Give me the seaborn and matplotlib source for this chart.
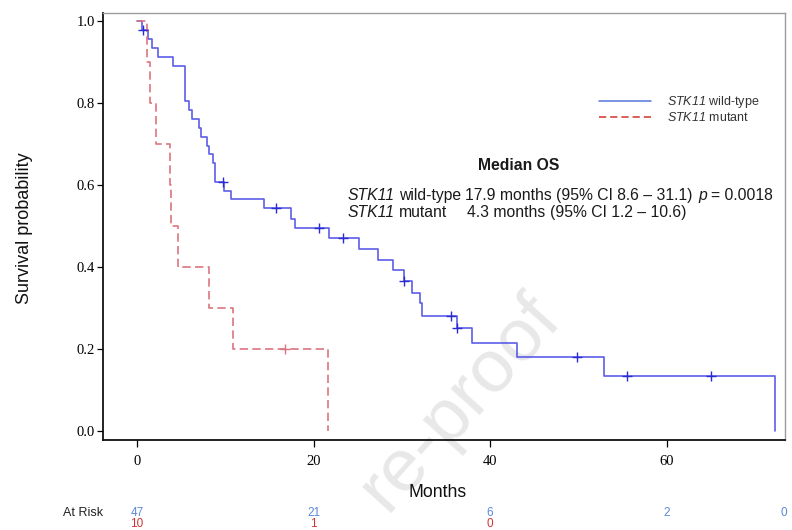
import numpy as np
import pandas as pd
import matplotlib
matplotlib.use("Agg")
import matplotlib.pyplot as plt
import matplotlib.transforms as mtransforms
from matplotlib.lines import Line2D
import seaborn as sns

# Kaplan-Meier overall survival estimates by STK11 status
wt_time = [0, 0.6, 1.2, 1.7, 2.4, 4.1, 5.4, 5.9, 6.2, 7.0, 7.3, 7.9, 8.1, 8.6, 8.8,
           9.9, 10.7, 14.4, 17.4, 17.9, 21.7, 25.1, 27.3, 29.0, 30.2, 31.2, 32.0,
           32.3, 36.2, 38.0, 43.0, 52.9, 72.3]
wt_surv = [1.0, 0.979, 0.956, 0.933, 0.911, 0.89, 0.805, 0.783, 0.76, 0.738, 0.716,
           0.695, 0.675, 0.653, 0.608, 0.586, 0.565, 0.543, 0.516, 0.494, 0.470,
           0.443, 0.417, 0.393, 0.366, 0.337, 0.311, 0.281, 0.25, 0.215, 0.181,
           0.135, 0.0]
wt_censor = [0.7, 9.7, 15.7, 20.6, 23.3, 30.2, 35.6, 36.3, 49.8, 55.5, 65.0]

mut_time = [0, 1.1, 1.5, 2.2, 3.75, 3.9, 4.6, 8.1, 10.9, 21.6]
mut_surv = [1.0, 0.9, 0.8, 0.7, 0.6, 0.5, 0.4, 0.3, 0.2, 0.0]
mut_censor = [16.8]

# numbers at risk
risk_label_x = [0, 20, 40, 60, 73.3]
wt_at_risk = [47, 21, 6, 2, 0]
mut_at_risk = [10, 1, 0]

x_ticks = [0, 20, 40, 60]
y_ticks = [0.0, 0.2, 0.4, 0.6, 0.8, 1.0]

WT_COLOR = "#4c4ce8"
WT_MARK = "#2b2bd0"
MUT_COLOR = "#dc7480"
LEG_BLUE = "#5577d8"
LEG_RED = "#d9524c"
RISK_BLUE = "#5a88d8"
RISK_RED = "#d23232"

sns.set_style("ticks")
plt.rcParams["font.family"] = ["Liberation Sans", "DejaVu Sans"]
plt.rcParams["mathtext.fontset"] = "custom"
plt.rcParams["mathtext.rm"] = "Liberation Sans"
plt.rcParams["mathtext.sf"] = "Liberation Sans:italic"

fig = plt.figure(figsize=(7.92, 5.3), dpi=100)
ax = fig.add_axes([103 / 792, 90 / 530, 682 / 792, 427 / 530])


def censor_levels(times, surv, cens):
    t = np.asarray(times)
    s = np.asarray(surv)
    idx = np.searchsorted(t, np.asarray(cens), side="right") - 1
    return s[idx]


wt_df = pd.DataFrame({"Months": wt_time, "Survival": wt_surv})
mut_df = pd.DataFrame({"Months": mut_time, "Survival": mut_surv})

sns.lineplot(data=wt_df, x="Months", y="Survival", estimator=None, sort=False,
             drawstyle="steps-post", color=WT_COLOR, lw=1.2, alpha=0.9, ax=ax)
sns.lineplot(data=mut_df, x="Months", y="Survival", estimator=None, sort=False,
             drawstyle="steps-post", color=MUT_COLOR, lw=1.2,
             linestyle=(0, (5, 2.6)), ax=ax)

sns.scatterplot(x=wt_censor, y=censor_levels(wt_time, wt_surv, wt_censor),
                marker="+", s=45, color=WT_MARK, linewidth=1.0, ax=ax, zorder=3)
sns.scatterplot(x=mut_censor, y=censor_levels(mut_time, mut_surv, mut_censor),
                marker="+", s=45, color=MUT_COLOR, linewidth=1.0, ax=ax, zorder=3)

ax.set_xlim(-3.85, 73.4)
ax.set_ylim(-0.022, 1.0195)
ax.set_xticks(x_ticks)
ax.set_yticks(y_ticks)
ax.set_yticklabels([f"{v:.1f}" for v in y_ticks])
ax.tick_params(axis="both", labelsize=10.5, labelfontfamily="Liberation Serif",
               colors="black", width=0.9)
ax.tick_params(axis="y", length=4.5, pad=1.5)
ax.tick_params(axis="x", length=5, pad=6)

for side in ("left", "bottom"):
    ax.spines[side].set_color("#111111")
    ax.spines[side].set_linewidth(1.3)
for side in ("top", "right"):
    ax.spines[side].set_color("#9c9c9c")
    ax.spines[side].set_linewidth(1.0)

ax.set_xlabel("Months", fontsize=12.7, va="center", color="#111111")
ax.xaxis.set_label_coords(0.491, -0.124)
ax.set_ylabel("Survival probability", fontsize=13, va="center", color="#111111")
ax.yaxis.set_label_coords(-0.115, 0.496)

# legend (gene symbol in italics)
handles = [
    Line2D([], [], color=LEG_BLUE, lw=1.1),
    Line2D([], [], color=LEG_RED, lw=1.3, linestyle=(0, (4, 2.2))),
]
labels = [r"$\mathsf{STK11}$ wild-type", r"$\mathsf{STK11}$ mutant"]
leg = ax.legend(handles, labels, loc="center left", bbox_to_anchor=(0.727, 0.775),
                frameon=False, fontsize=9, handlelength=4.2, handletextpad=1.25,
                labelspacing=0.1, borderpad=0, borderaxespad=0)
for t in leg.get_texts():
    t.set_color("#333333")

# median overall survival summary
txt_kw = dict(fontsize=11.3, color="#1a1a1a", transform=ax.transAxes,
              ha="left", va="baseline")
ax.text(0.610, 0.632, "Median OS", transform=ax.transAxes, ha="center",
        va="baseline", fontsize=11.3, fontweight="bold", color="#1a1a1a")

ax.text(0.358, 0.562, "STK11", fontstyle="italic", **txt_kw)
ax.text(0.434, 0.562, "wild-type", **txt_kw)
ax.text(0.531, 0.562, "17.9 months", **txt_kw)
ax.text(0.664, 0.562, "(95% CI 8.6 \u2013 31.1)", **txt_kw)
ax.text(0.873, 0.562, "p", fontstyle="italic", **txt_kw)
ax.text(0.892, 0.562, "= 0.0018", **txt_kw)

ax.text(0.358, 0.522, "STK11", fontstyle="italic", **txt_kw)
ax.text(0.434, 0.522, "mutant", **txt_kw)
ax.text(0.533, 0.522, "4.3 months", **txt_kw)
ax.text(0.656, 0.522, "(95% CI 1.2 \u2013 10.6)", **txt_kw)

# numbers at risk below the axis
risk_tf = mtransforms.blended_transform_factory(ax.transData, fig.transFigure)
fig.text(103 / 792, (530 - 513) / 530, "At Risk", ha="right", va="center",
         fontsize=9, color="#222222")
for xv, n in zip(risk_label_x, wt_at_risk):
    ax.text(xv, (530 - 513) / 530, str(n), transform=risk_tf, ha="center",
            va="center", fontsize=8.5, color=RISK_BLUE, clip_on=False)
for xv, n in zip(risk_label_x, mut_at_risk):
    ax.text(xv, (530 - 524) / 530, str(n), transform=risk_tf, ha="center",
            va="center", fontsize=8.5, color=RISK_RED, clip_on=False)

# watermark
ax.text(562 / 792, 1 - 318 / 530, "re-proof", transform=fig.transFigure,
        rotation=48, rotation_mode="anchor", ha="right", va="baseline",
        fontsize=54, color="#e8e8e8", zorder=0, clip_on=False)

fig.savefig("out.png", dpi=100)
